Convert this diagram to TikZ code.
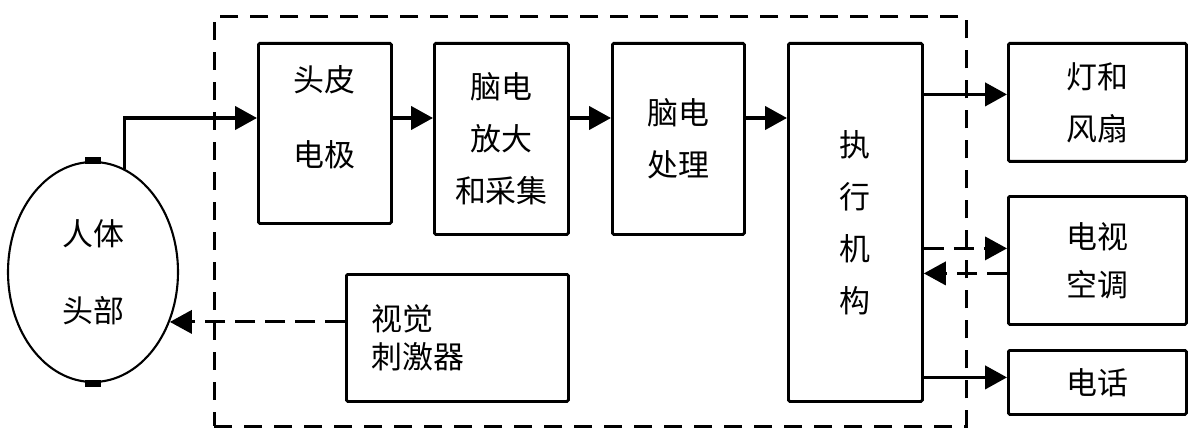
\documentclass[tikz,border=0pt]{standalone}
\usepackage{fontspec}
\newfontfamily\cjk{Noto Sans CJK SC}
\usepackage{tikz}
\usetikzlibrary{arrows.meta, shapes.geometric}
\tikzstyle{cjktext} = [font=\cjk\fontsize{22}{37}\selectfont]
\tikzstyle{block} = [rectangle, draw=black, line width=2pt, rounded corners=1pt, align=center, cjktext]
\tikzstyle{link} = [line width=2.6pt, -{Triangle[length=0.55cm, width=0.58cm]}]
\tikzstyle{dashlink} = [link, line width=2.2pt, dash pattern=on 0.5cm off 0.25cm]

\begin{document}
\begin{tikzpicture}

        \useasboundingbox (0,0) rectangle (29.85,-10.975);

        \node (frame) [rectangle, draw=black, line width=2pt, dash pattern=on 0.45cm off 0.3cm, anchor=north west, minimum width=18.8cm, minimum height=10.25cm] at (5.325,-0.375) {};

        \node (head) [ellipse, draw=black, line width=1.5pt, minimum width=4.25cm, minimum height=5.5cm, align=center, cjktext] at (2.325,-6.8) {人体\\[18pt]头部};
        \draw [line width=5pt] ([xshift=-0.2cm]head.north) -- ([xshift=0.2cm]head.north);
        \draw [line width=5pt] ([xshift=-0.2cm]head.south) -- ([xshift=0.2cm]head.south);

        \node (skin) [block, anchor=north west, minimum width=3.325cm, minimum height=4.5cm, label={[align=center, cjktext, yshift=0.41cm]center:头皮\\[16pt]电极}] at (6.425,-1.05) {};
        \node (amp) [block, anchor=north west, minimum width=3.35cm, minimum height=4.775cm] at (10.825,-1.05) {脑电\\放大\\和采集};
        \node (proc) [block, anchor=north west, minimum width=3.3cm, minimum height=4.775cm] at (15.275,-1.05) {脑电\\处理};
        \node (exec) [block, anchor=north west, minimum width=3.35cm, minimum height=8.95cm] at (19.675,-1.05) {执\\行\\机\\构};

        \node (fan) [block, anchor=north west, minimum width=4.45cm, minimum height=2.95cm] at (25.175,-1.05) {灯和\\风扇};
        \node (tv) [block, anchor=north west, minimum width=4.45cm, minimum height=3.2cm] at (25.175,-4.875) {电视\\[-3pt]空调};
        \node (phone) [block, anchor=north west, minimum width=4.45cm, minimum height=1.6cm] at (25.175,-8.725) {电话};

        \node (stim) [block, anchor=north west, minimum width=5.55cm, minimum height=3.175cm, align=left, text width=4.3cm] at (8.625,-6.825) {视觉\\[-10pt]刺激器};

        % signal chain
        \coordinate (bus) at (0,-2.95);
        \draw [link] (head.73) |- (skin.west |- bus);
        \draw [link] (skin.east |- bus) -- (amp.west |- bus);
        \draw [link] (amp.east |- bus) -- (proc.west |- bus);
        \draw [link] (proc.east |- bus) -- (exec.west |- bus);

        % outputs
        \coordinate (fanin) at ([yshift=0.2cm]fan.west);
        \coordinate (tvin) at ([yshift=0.3cm]tv.west);
        \coordinate (tvout) at ([yshift=-0.325cm]tv.west);
        \coordinate (phonein) at ([yshift=0.125cm]phone.west);
        \draw [link] (exec.east |- fanin) -- (fanin);
        \draw [dashlink] (exec.east |- tvin) -- (tvin);
        \draw [dashlink] (tvout) -- (exec.east |- tvout);
        \draw [link] (exec.east |- phonein) -- (phonein);

        % feedback
        \draw [dashlink] (stim.west |- head.-33) -- (head.-33);

    \end{tikzpicture}
\end{document}
